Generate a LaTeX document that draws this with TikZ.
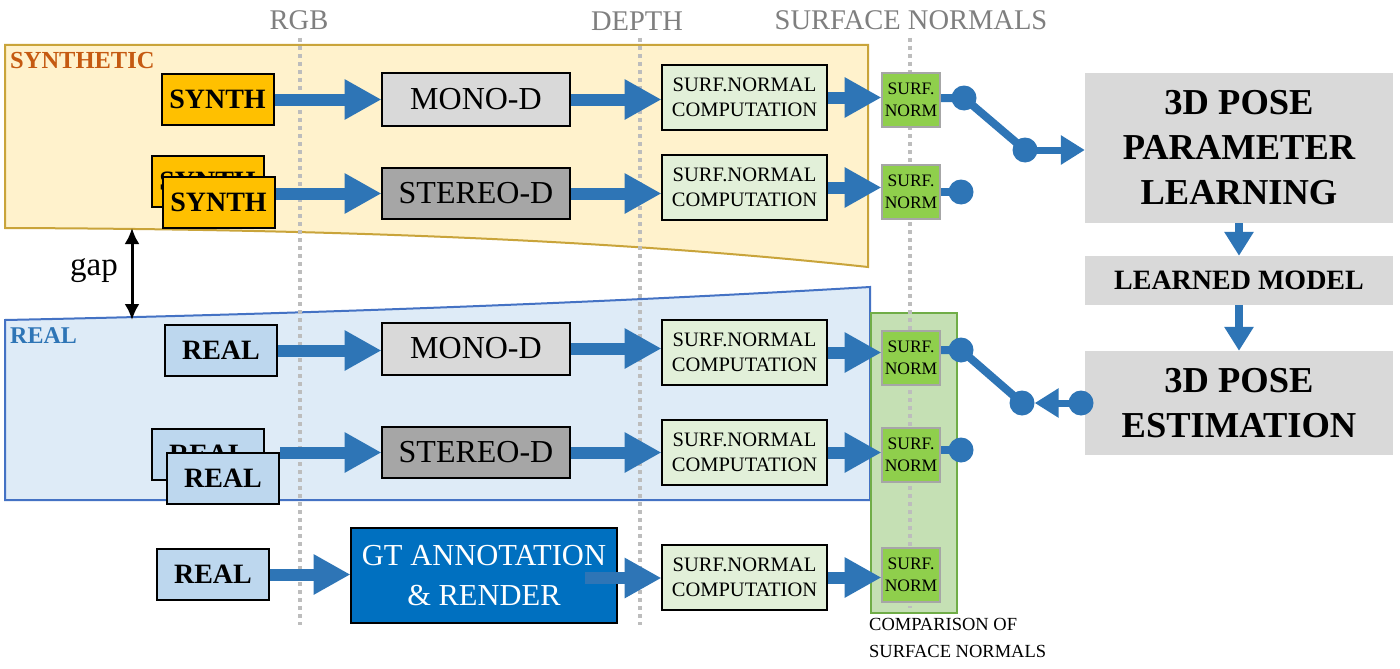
\documentclass[tikz,border=0pt]{standalone}
\usepackage{fontspec}
\setmainfont{Liberation Serif}
\usetikzlibrary{arrows.meta,calc}
\definecolor{synthC}{HTML}{FFC000}
\definecolor{synthReg}{HTML}{FFF2CC}
\definecolor{synthRegB}{HTML}{C9A43A}
\definecolor{realC}{HTML}{BDD7EE}
\definecolor{realReg}{HTML}{DEEBF7}
\definecolor{realRegB}{HTML}{4472C4}
\definecolor{monoC}{HTML}{D9D9D9}
\definecolor{stereoC}{HTML}{A6A6A6}
\definecolor{compC}{HTML}{E2F0D9}
\definecolor{normC}{HTML}{8FCF4C}
\definecolor{cmpReg}{HTML}{C5E0B4}
\definecolor{cmpRegB}{HTML}{70AD47}
\definecolor{gtC}{HTML}{0070C0}
\definecolor{poseC}{HTML}{D9D9D9}
\definecolor{arrC}{HTML}{2E75B6}
\definecolor{hdrC}{HTML}{7F7F7F}
\definecolor{synLab}{HTML}{C55A11}
\definecolor{realLab}{HTML}{2E75B6}
\definecolor{dotC}{HTML}{BDBDBD}
\tikzset{
  box/.style={draw=black, line width=2pt, inner sep=0pt, align=center},
  synthbox/.style={box, fill=synthC, minimum width=112pt, minimum height=51pt, font=\fontsize{28}{30}\selectfont\bfseries},
  realbox/.style={box, fill=realC, minimum width=112pt, minimum height=51pt, font=\fontsize{28}{30}\selectfont\bfseries},
  monobox/.style={box, fill=monoC, minimum width=188pt, minimum height=52pt, font=\fontsize{32}{34}\selectfont},
  stereobox/.style={box, fill=stereoC, minimum width=188pt, minimum height=51pt, font=\fontsize{32}{34}\selectfont},
  compbox/.style={box, fill=compC, minimum width=165pt, minimum height=65pt, font=\fontsize{20.5}{25}\selectfont},
  normbox/.style={draw=stereoC, line width=2pt, fill=normC, inner sep=0pt, align=center, minimum width=58pt, minimum height=54pt, font=\fontsize{17.5}{22}\selectfont},
  gtbox/.style={box, fill=gtC, text=white, minimum width=266pt, minimum height=95pt, font=\fontsize{30.5}{40}\selectfont},
  posebox/.style={fill=poseC, inner sep=0pt, align=center, font=\fontsize{36.5}{45}\selectfont\bfseries},
  hdr/.style={text=hdrC, font=\fontsize{28.5}{30}\selectfont, inner sep=0pt},
  guide/.style={dotC, line width=4pt, dash pattern=on 4pt off 4pt},
  arr/.style={arrC, line width=12pt, -{Triangle[length=37pt,width=38pt]}, shorten >=-0.5pt},
  arrS/.style={arrC, line width=7pt, -{Triangle[length=24pt,width=28pt]}},
  sw/.style={arrC, line width=8pt},
  dot/.style={circle, fill=arrC, minimum size=25pt, inner sep=0pt},
}
\begin{document}
\begin{tikzpicture}[x=1pt, y=-1pt]
\useasboundingbox (0,0) rectangle (1400,669);
\fill[white] (0,0) rectangle (1400,669);

% regions
\draw[fill=synthReg, draw=synthRegB, line width=2pt] (5,45) -- (868,45) -- (868,267) .. controls (600,238) and (300,229) .. (5,228) -- cycle;
\draw[fill=realReg, draw=realRegB, line width=2pt] (5,320) .. controls (300,314) and (600,303) .. (870,287) -- (870,500) -- (5,500) -- cycle;
\draw[fill=cmpReg, draw=cmpRegB, line width=2pt] (871,313) rectangle (957,613);

\node[anchor=west, text=synLab, font=\fontsize{24.5}{26}\selectfont\bfseries, inner sep=0pt] (synlab) at (10,61) {SYNTHETIC};
\node[anchor=west, text=realLab, font=\fontsize{24}{26}\selectfont\bfseries, inner sep=0pt] (reallab) at (10,336) {REAL};

% column headers and guides
\node[hdr] (hrgb) at (299,20) {RGB};
\node[hdr] (hdepth) at (637,21) {DEPTH};
\node[hdr] (hsn) at (911,20) {SURFACE NORMALS};
\draw[guide] (300,38) -- (300,625);
\draw[guide] (640,38) -- (640,625);
\draw[guide] (910,38) -- (910,608);

% gap
\draw[black, line width=3pt, {Latex[length=16pt,width=15pt]}-{Latex[length=16pt,width=15pt]}] (132,228) -- (132,320);
\node[font=\fontsize{33}{36}\selectfont, inner sep=0pt] (gap) at (94,271) {gap};

% synthetic row
\node[synthbox] (syn1) at (217.5,99.5) {SYNTH};
\node[synthbox] (syn2b) at (207.5,181.5) {SYNTH};
\node[synthbox] (syn2) at (218.5,202) {SYNTH};
\node[monobox] (mono1) at (476,99.5) {MONO-D};
\node[stereobox] (stereo1) at (476,193.5) {STEREO-D};
\node[compbox] (comp1) at (744.5,97.5) {SURF.NORMAL\\COMPUTATION};
\node[compbox] (comp2) at (744.5,187.5) {SURF.NORMAL\\COMPUTATION};
\node[normbox] (norm1) at (911,100) {SURF.\\NORM};
\node[normbox] (norm2) at (911,192) {SURF.\\NORM};

% real rows
\node[realbox] (real1) at (221,350.5) {REAL};
\node[realbox] (real2b) at (208,454) {REAL};
\node[realbox] (real2) at (223,478) {REAL};
\node[monobox] (mono2) at (476,348.5) {MONO-D};
\node[stereobox] (stereo2) at (476,452.5) {STEREO-D};
\node[compbox] (comp3) at (744.5,352.5) {SURF.NORMAL\\COMPUTATION};
\node[compbox] (comp4) at (744.5,452.5) {SURF.NORMAL\\COMPUTATION};
\node[normbox] (norm3) at (911,357.5) {SURF.\\NORM};
\node[normbox] (norm4) at (911,455) {SURF.\\NORM};

% GT row
\node[realbox] (real3) at (213,574.5) {REAL};
\node[gtbox] (gt) at (484,575.5) {GT ANNOTATION\\\& RENDER};
\node[compbox] (comp5) at (744.5,577.5) {SURF.NORMAL\\COMPUTATION};
\node[normbox] (norm5) at (911,574.5) {SURF.\\NORM};

\node[anchor=north west, align=left, inner sep=0pt, font=\fontsize{18.5}{27}\selectfont] (cmplab) at (869,618) {COMPARISON OF\\SURFACE NORMALS};

% right side
\node[posebox, minimum width=308pt, minimum height=150pt] (param) at (1239,148) {3D POSE\\PARAMETER\\LEARNING};
\node[posebox, minimum width=308pt, minimum height=49pt, font=\fontsize{28}{30}\selectfont\bfseries] (learned) at (1239,280.5) {LEARNED MODEL};
\node[posebox, minimum width=308pt, minimum height=104pt] (est) at (1239,403) {3D POSE\\ESTIMATION};

% arrows
\draw[arr] (syn1.east) -- (mono1.west);
\draw[arr] (syn2.east |- stereo1.west) -- (stereo1.west);
\draw[arr] (mono1.east) -- (comp1.west |- mono1.east);
\draw[arr] (stereo1.east) -- (comp2.west |- stereo1.east);
\draw[arr] (comp1.east) -- (norm1.west |- comp1.east);
\draw[arr] (comp2.east) -- (norm2.west |- comp2.east);

\draw[arr] (real1.east) -- (mono2.west |- real1.east);
\draw[arr] (real2.east |- stereo2.west) -- (stereo2.west);
\draw[arr] (mono2.east) -- (comp3.west |- mono2.east);
\draw[arr] (stereo2.east) -- (comp4.west |- stereo2.east);
\draw[arr] (comp3.east) -- (norm3.west |- comp3.east);
\draw[arr] (comp4.east) -- (norm4.west |- comp4.east);

\draw[arr] (real3.east) -- (gt.west |- real3.east);
\coordinate (gtout) at (585,578);
\draw[arr] (gtout) -- (comp5.west |- gtout);
\draw[arr] (comp5.east) -- (norm5.west |- comp5.east);

% switches
\node[dot] (s1a) at (964,98) {};
\node[dot] (s1b) at (1025,150) {};
\node[dot] (s2) at (961,192) {};
\node[dot] (r1a) at (961,350) {};
\node[dot] (r1b) at (1022,403) {};
\node[dot] (r2) at (1081,403) {};
\node[dot] (r3) at (961,450) {};
\draw[sw] (norm1.east |- s1a) -- (s1a.center) -- (s1b.center);
\draw[sw] (norm2.east |- s2) -- (s2.center);
\draw[sw] (norm3.east |- r1a) -- (r1a.center) -- (r1b.center);
\draw[sw] (norm4.east |- r3) -- (r3.center);
\draw[arrS] (s1b.center) -- (param.west |- s1b);
\draw[arrS] (r2.center) -- (r1b.east);

\draw[arrS, line width=8pt] (param.south) -- (learned.north);
\draw[arrS, line width=8pt] (learned.south) -- (est.north);
\end{tikzpicture}
\end{document}
